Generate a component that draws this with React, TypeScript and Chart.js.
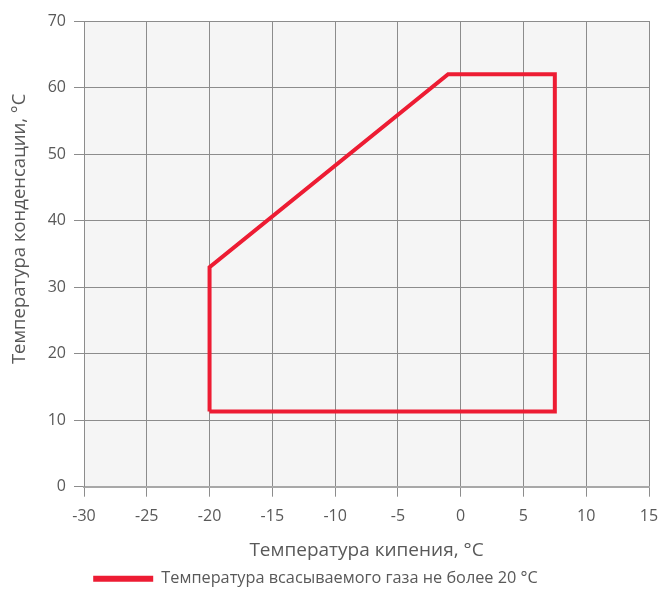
import React, { useEffect, useRef } from "react";
import { Chart, registerables } from "chart.js";

Chart.register(...registerables);

const seriesLabel = "Температура всасываемого газа не более 20 °C";
const boilingTemp = [-20, -20, -1, 7.5, 7.5, -20];
const condensingTemp = [11.3, 33, 62, 62, 11.3, 11.3];
const xTitle = "Температура кипения, °C";
const yTitle = "Температура конденсации, °C";

const RED = "#ed1c33";
const TEXT = "#595959";
const FONT = '"Open Sans", sans-serif';

const bgPlugin = {
  id: "plotBg",
  afterLayout(chart: any) {
    if (chart.legend) {
      chart.legend.right = chart.legend.right - 18;
    }
  },
  beforeDraw(chart: any) {
    const { ctx, chartArea } = chart;
    ctx.save();
    ctx.fillStyle = "#f5f5f5";
    ctx.fillRect(chartArea.left, chartArea.top, chartArea.right - chartArea.left, chartArea.bottom - chartArea.top);
    ctx.restore();
  },
  afterDraw(chart: any) {
    const { ctx, chartArea } = chart;
    ctx.save();
    ctx.fillStyle = TEXT;
    ctx.font = `18.5px ${FONT}`;
    ctx.textAlign = "center";
    ctx.textBaseline = "middle";
    ctx.translate(20, (chartArea.top + chartArea.bottom) / 2 - 25);
    ctx.rotate(-Math.PI / 2);
    ctx.fillText(yTitle, 0, 0);
    ctx.restore();
  },
};

export default function App() {
  const ref = useRef<HTMLCanvasElement>(null);
  useEffect(() => {
    if (!ref.current) return;
    const chart = new Chart(ref.current, {
      type: "line",
      data: {
        datasets: [
          {
            label: seriesLabel,
            data: boilingTemp.map((x, i) => ({ x, y: condensingTemp[i] })),
            borderColor: RED,
            backgroundColor: RED,
            borderWidth: 4,
            pointRadius: 0,
            tension: 0,
            fill: false,
            borderJoinStyle: "miter",
          },
        ],
      },
      options: {
        animation: false,
        responsive: false,
        layout: { padding: { left: 0, right: 16, top: 21, bottom: -4 } },
        plugins: {
          tooltip: { enabled: false },
          legend: {
            position: "bottom",
            labels: {
              color: TEXT,
              font: { family: FONT, size: 16.3 },
              boxWidth: 60,
              boxHeight: 6,
              padding: 6,
              generateLabels: () => [
                {
                  text: seriesLabel,
                  fillStyle: RED,
                  strokeStyle: RED,
                  lineWidth: 0,
                  fontColor: TEXT,
                  hidden: false,
                  datasetIndex: 0,
                },
              ],
            },
          },
        },
        scales: {
          x: {
            type: "linear",
            min: -30,
            max: 15,
            afterFit: (s: any) => {
              s.height = 78;
              s.paddingRight = 0;
              s.paddingLeft = 0;
            },
            ticks: { stepSize: 5, color: TEXT, font: { family: FONT, size: 16 }, padding: 10, maxRotation: 0 },
            grid: { color: "#8c8c8c", lineWidth: 1, tickLength: 10, drawTicks: true },
            border: { color: "#a8a8a8", width: 2 },
            title: { display: true, text: xTitle, color: TEXT, font: { family: FONT, size: 19 }, padding: { top: 0, bottom: 3 } },
          },
          y: {
            type: "linear",
            min: 0,
            max: 70,
            afterFit: (s: any) => {
              s.width = 84;
            },
            ticks: { stepSize: 10, color: TEXT, font: { family: FONT, size: 16 }, padding: 8 },
            grid: { color: "#8c8c8c", lineWidth: 1, tickLength: 10, drawTicks: true },
            border: { color: "#8c8c8c", width: 1 },
            title: { display: false, text: yTitle },
          },
        },
      },
      plugins: [bgPlugin],
    } as any);
    return () => chart.destroy();
  }, []);
  return (
    <div style={{ position: "absolute", left: 0, top: 0, width: 665, height: 593, background: "#fff" }}>
      <canvas ref={ref} width={665} height={593} style={{ display: "block", width: 665, height: 593 }} />
    </div>
  );
}
